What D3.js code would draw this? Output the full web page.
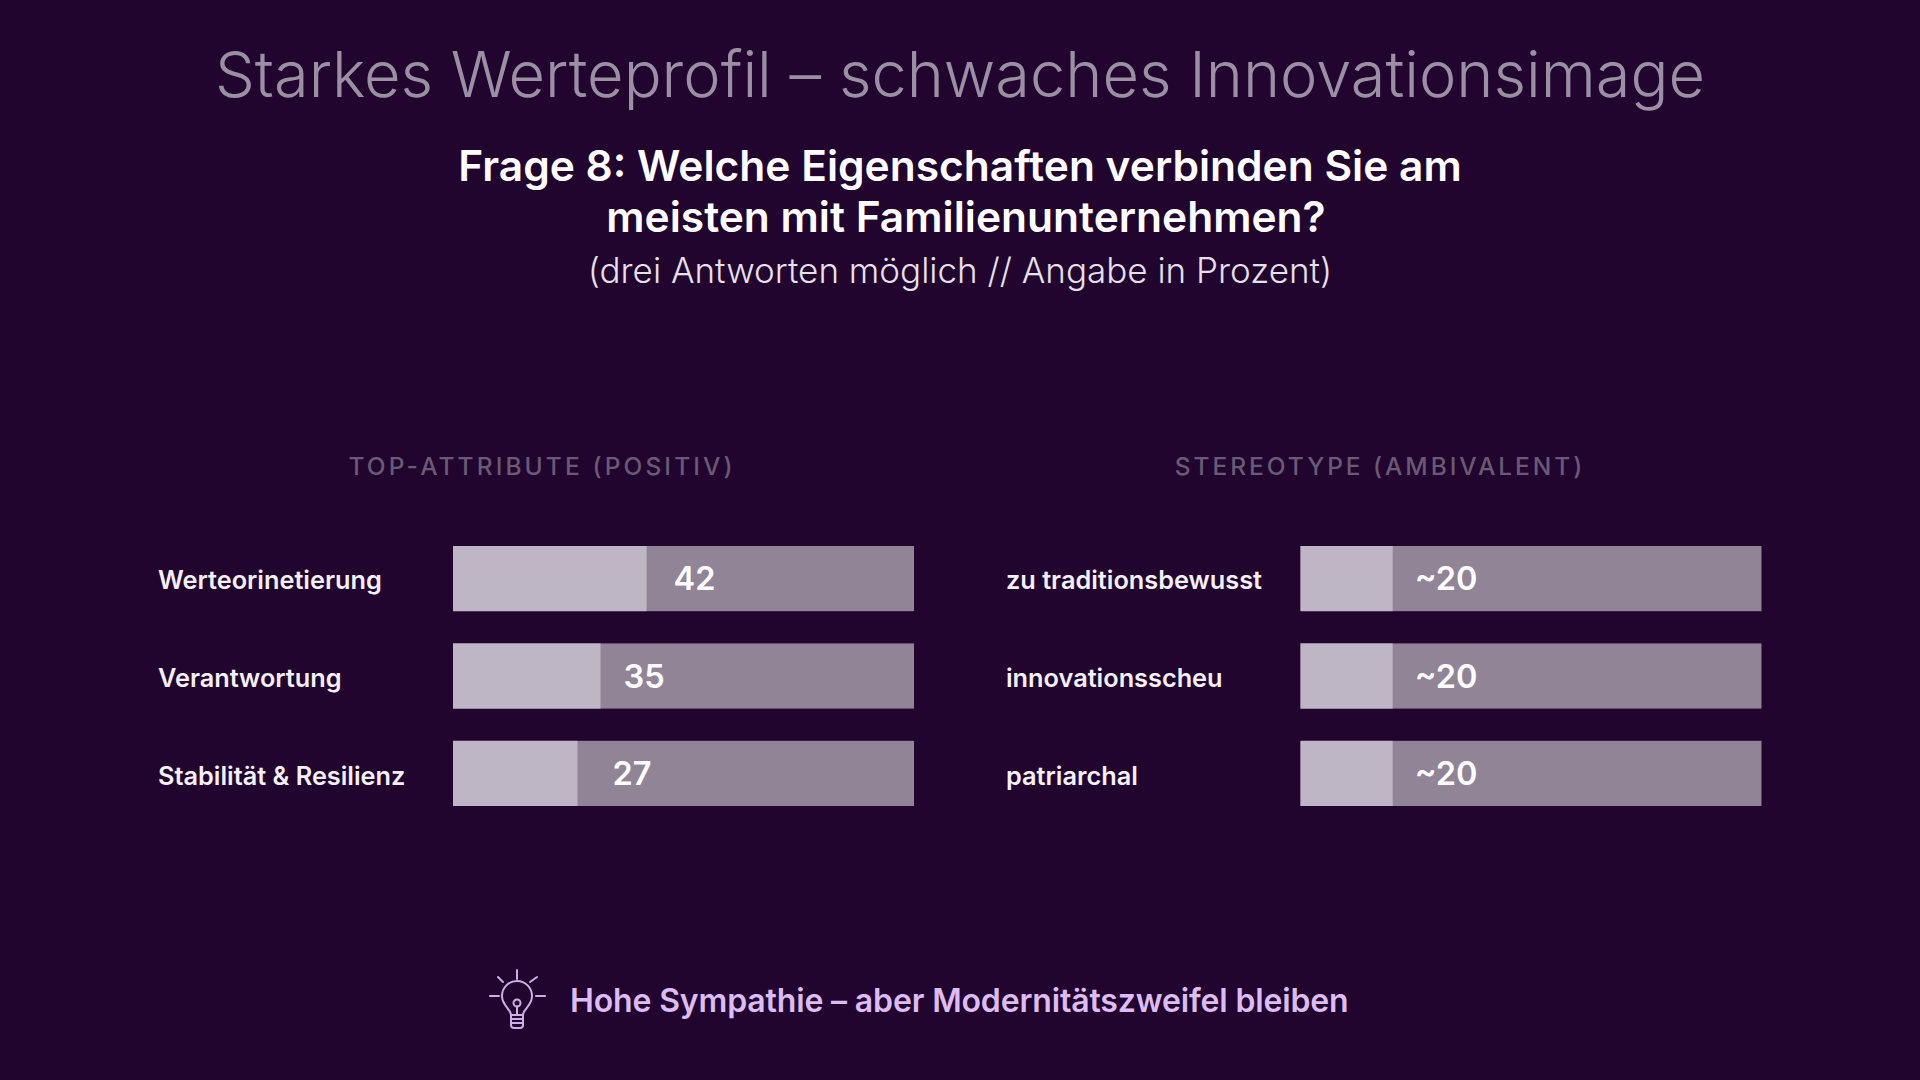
<!DOCTYPE html>
<html lang="de"><head><meta charset="utf-8">
<script src="https://cdn.jsdelivr.net/npm/d3@7"></script>
<style>html,body{margin:0;padding:0;background:#21052e;overflow:hidden}svg{display:block}text{font-family:Inter,"Noto Sans",sans-serif}</style>
</head><body><svg id="c" width="1920" height="1080"></svg>
<script>
const titleText = "Starkes Werteprofil – schwaches Innovationsimage";
const questionLines = ["Frage 8: Welche Eigenschaften verbinden Sie am", "meisten mit Familienunternehmen?"];
const noteText = "(drei Antworten möglich // Angabe in Prozent)";
const footerText = "Hohe Sympathie – aber Modernitätszweifel bleiben";
const panelTitles = ["TOP-ATTRIBUTE (POSITIV)", "STEREOTYPE (AMBIVALENT)"];
const positiveCategories = ["Werteorinetierung", "Verantwortung", "Stabilität & Resilienz"];
const positiveBarValues = [42, 32, 27];
const positiveLabels = ["42", "35", "27"];
const stereotypeCategories = ["zu traditionsbewusst", "innovationsscheu", "patriarchal"];
const stereotypeBarValues = [20, 20, 20];
const stereotypeLabels = ["~20", "~20", "~20"];

const svg = d3.select("#c");
const C = {title:"#9b8fa3", white:"#ffffff", note:"#e6e0ea", head:"#6a5a74", cat:"#f4f0f6", light:"#bfb6c5", track:"#908496", foot:"#dcbcf2", icon:"#cfaee6"};

function ctext(t,x,y,size,weight,fill,ls){
  return svg.append("text").attr("x",x).attr("y",y).attr("text-anchor","middle")
    .attr("font-size",size).attr("font-weight",weight).attr("fill",fill)
    .attr("letter-spacing",ls||0).text(t);
}
ctext(titleText,960,97,63.1,300,C.title,0);
ctext(questionLines[0],960,181,42.5,600,C.white,0);
ctext(questionLines[1],966,232,42.5,600,C.white,0);
ctext(noteText,960,283,35,300,C.note,0);

const y = d3.scaleBand().domain([0,1,2]).range([546,806]).paddingInner(0.331).paddingOuter(0);
function panel(o){
  const x = d3.scaleLinear().domain([0,100]).range([o.x0,o.x1]);
  const g = svg.append("g");
  ctext(o.head,o.hx,475,24.5,500,C.head,o.ls);
  const rows = g.selectAll("g.row").data(o.vals.map((v,i)=>({v,i,cat:o.cats[i],lab:o.labs[i]}))).join("g").attr("class","row");
  rows.append("rect").attr("x",x(0)).attr("y",d=>y(d.i)).attr("width",x(100)-x(0)).attr("height",y.bandwidth()).attr("fill",C.track);
  rows.append("rect").attr("x",x(0)).attr("y",d=>y(d.i)).attr("width",d=>x(d.v)-x(0)).attr("height",y.bandwidth()).attr("fill",C.light);
  rows.append("text").attr("x",o.lx).attr("y",d=>y(d.i)+y.bandwidth()/2+10+d.i*0.7).attr("font-size",25.3).attr("font-weight",600).attr("fill",C.cat).text(d=>d.cat);
  rows.append("text").attr("x",d=>x(d.v)+o.off[d.i]).attr("y",d=>y(d.i)+y.bandwidth()/2+11.5).attr("font-size",32.5).attr("font-weight",600).attr("fill",C.white).text(d=>d.lab);
}
panel({head:panelTitles[0],hx:542,ls:3.1,x0:453,x1:914,lx:158,cats:positiveCategories,vals:positiveBarValues,labs:positiveLabels,off:[27,23,35]});
panel({head:panelTitles[1],hx:1380,ls:2.95,x0:1300.5,x1:1761.5,lx:1006,cats:stereotypeCategories,vals:stereotypeBarValues,labs:stereotypeLabels,off:[22,22,22]});

// lightbulb icon
const ic = svg.append("g").attr("fill","none").attr("stroke",C.icon).attr("stroke-width",2).attr("stroke-linecap","round").attr("stroke-linejoin","round");
ic.append("path").attr("d","M511 1015c0-6-9-9-9-19a15 15 0 1 1 30 0c0 10-9 13-9 19z");
ic.append("circle").attr("cx",517).attr("cy",1003).attr("r",3.5);
ic.append("path").attr("d","M517 1006.5v8.5");
ic.append("path").attr("d","M511 1015h12v10a3 3 0 0 1-3 3h-6a3 3 0 0 1-3-3zM511 1019h12M511 1023h12");
ic.selectAll("line.r").data([[517,970,517,979],[498,977,503,982],[537,977,530,982],[490,996,499,996],[536,996,545,996]]).join("line").attr("class","r")
  .attr("x1",d=>d[0]).attr("y1",d=>d[1]).attr("x2",d=>d[2]).attr("y2",d=>d[3]);

svg.append("text").attr("x",570).attr("y",1011.5).attr("font-size",32).attr("font-weight",600).attr("letter-spacing",-0.15).attr("fill",C.foot).text(footerText);
</script></body></html>
